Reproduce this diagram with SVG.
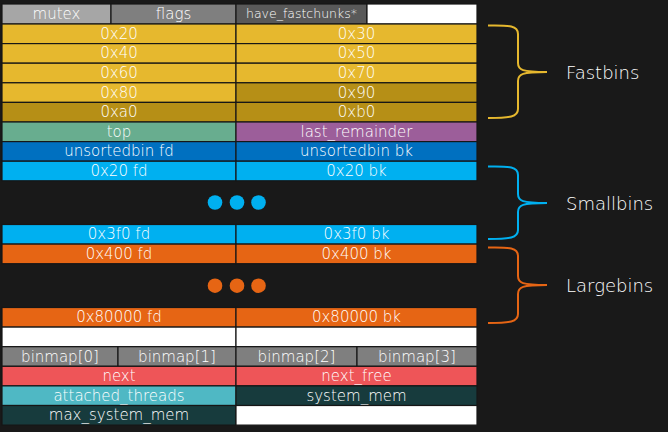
<svg xmlns="http://www.w3.org/2000/svg" width="668" height="432" viewBox="0 0 668 432">
<style>
.c{stroke:#161616;stroke-width:1.2}
.t{font-family:"DejaVu Sans","Liberation Sans",sans-serif;font-size:15px;font-weight:300;fill:#ffffff;text-anchor:middle;dominant-baseline:central}
.s{font-size:12.5px}
.lab{font-family:"DejaVu Sans","Liberation Sans",sans-serif;font-size:18px;font-weight:300;fill:#ffffff;dominant-baseline:central}
.br{fill:none;stroke-width:2}
.gold{fill:#e6b82e}.dgold{fill:#b68f16}.orange{fill:#e66514}.sky{fill:#00b0f0}
</style>
<rect width="668" height="432" fill="#191919"/>
<g id="row-header">
<rect class="c" x="2" y="4" width="109" height="20" fill="#a6a6a6"/><text class="t" x="56.5" y="14">mutex</text>
<rect class="c" x="111" y="4" width="125" height="20" fill="#7f7f7f"/><text class="t" x="173.5" y="14">flags</text>
<rect class="c" x="236" y="4" width="131" height="20" fill="#595959"/><text class="t s" x="301.5" y="13">have_fastchunks*</text>
<rect class="c" x="367" y="4" width="110" height="20" fill="#ffffff"/>
</g>
<g id="fastbin-0x20"><rect class="c gold" x="2" y="24" width="234" height="19.6"/><text class="t" x="119" y="33.8">0x20</text></g>
<g id="fastbin-0x30"><rect class="c gold" x="236" y="24" width="241" height="19.6"/><text class="t" x="356.5" y="33.8">0x30</text></g>
<g id="fastbin-0x40"><rect class="c gold" x="2" y="43.6" width="234" height="19.6"/><text class="t" x="119" y="53.4">0x40</text></g>
<g id="fastbin-0x50"><rect class="c gold" x="236" y="43.6" width="241" height="19.6"/><text class="t" x="356.5" y="53.4">0x50</text></g>
<g id="fastbin-0x60"><rect class="c gold" x="2" y="63.2" width="234" height="19.6"/><text class="t" x="119" y="73">0x60</text></g>
<g id="fastbin-0x70"><rect class="c gold" x="236" y="63.2" width="241" height="19.6"/><text class="t" x="356.5" y="73">0x70</text></g>
<g id="fastbin-0x80"><rect class="c gold" x="2" y="82.8" width="234" height="19.6"/><text class="t" x="119" y="92.6">0x80</text></g>
<g id="fastbin-0x90"><rect class="c dgold" x="236" y="82.8" width="241" height="19.6"/><text class="t" x="356.5" y="92.6">0x90</text></g>
<g id="fastbin-0xa0"><rect class="c dgold" x="2" y="102.4" width="234" height="19.6"/><text class="t" x="119" y="112.2">0xa0</text></g>
<g id="fastbin-0xb0"><rect class="c dgold" x="236" y="102.4" width="241" height="19.6"/><text class="t" x="356.5" y="112.2">0xb0</text></g>
<g id="top"><rect class="c" x="2" y="122" width="234" height="19.6" fill="#68ad8f"/><text class="t" x="119" y="131.8">top</text></g>
<g id="last_remainder"><rect class="c" x="236" y="122" width="241" height="19.6" fill="#9c5e9a"/><text class="t" x="356.5" y="131.8">last_remainder</text></g>
<g id="unsorted-fd"><rect class="c" x="2" y="141.6" width="234" height="19.6" fill="#0070c0"/><text class="t" x="119" y="151.4">unsortedbin fd</text></g>
<g id="unsorted-bk"><rect class="c" x="236" y="141.6" width="241" height="19.6" fill="#0070c0"/><text class="t" x="356.5" y="151.4">unsortedbin bk</text></g>
<g id="small-0x20-fd"><rect class="c sky" x="2" y="161.2" width="234" height="19.6"/><text class="t" x="119" y="171">0x20 fd</text></g>
<g id="small-0x20-bk"><rect class="c sky" x="236" y="161.2" width="241" height="19.6"/><text class="t" x="356.5" y="171">0x20 bk</text></g>
<g id="small-dots" class="sky"><circle cx="215" cy="202.5" r="7.3"/><circle cx="237" cy="202.5" r="7.3"/><circle cx="258.5" cy="202.5" r="7.3"/></g>
<g id="small-0x3f0-fd"><rect class="c sky" x="2" y="224.5" width="234" height="19.6"/><text class="t" x="119" y="234.3">0x3f0 fd</text></g>
<g id="small-0x3f0-bk"><rect class="c sky" x="236" y="224.5" width="241" height="19.6"/><text class="t" x="356.5" y="234.3">0x3f0 bk</text></g>
<g id="large-0x400-fd"><rect class="c orange" x="2" y="244.1" width="234" height="19.6"/><text class="t" x="119" y="253.9">0x400 fd</text></g>
<g id="large-0x400-bk"><rect class="c orange" x="236" y="244.1" width="241" height="19.6"/><text class="t" x="356.5" y="253.9">0x400 bk</text></g>
<g id="large-dots" class="orange"><circle cx="215" cy="285.7" r="7.3"/><circle cx="237" cy="285.7" r="7.3"/><circle cx="258.5" cy="285.7" r="7.3"/></g>
<g id="large-0x80000-fd"><rect class="c orange" x="2" y="307.5" width="234" height="19.6"/><text class="t" x="119" y="317.3">0x80000 fd</text></g>
<g id="large-0x80000-bk"><rect class="c orange" x="236" y="307.5" width="241" height="19.6"/><text class="t" x="356.5" y="317.3">0x80000 bk</text></g>
<g id="blank-row"><rect class="c" x="2" y="327.1" width="234" height="19.6" fill="#ffffff"/><rect class="c" x="236" y="327.1" width="241" height="19.6" fill="#ffffff"/></g>
<g id="binmap">
<rect class="c" x="2" y="346.7" width="116" height="19.6" fill="#7f7f7f"/><text class="t" x="60" y="356.5">binmap[0]</text>
<rect class="c" x="118" y="346.7" width="118" height="19.6" fill="#7f7f7f"/><text class="t" x="177" y="356.5">binmap[1]</text>
<rect class="c" x="236" y="346.7" width="121" height="19.6" fill="#7f7f7f"/><text class="t" x="296.5" y="356.5">binmap[2]</text>
<rect class="c" x="357" y="346.7" width="120" height="19.6" fill="#7f7f7f"/><text class="t" x="417" y="356.5">binmap[3]</text>
</g>
<g id="next"><rect class="c" x="2" y="366.3" width="234" height="19.6" fill="#ee5558"/><text class="t" x="119" y="376.1">next</text></g>
<g id="next_free"><rect class="c" x="236" y="366.3" width="241" height="19.6" fill="#ee5558"/><text class="t" x="356.5" y="376.1">next_free</text></g>
<g id="attached_threads"><rect class="c" x="2" y="385.9" width="234" height="19.6" fill="#4fb8c4"/><text class="t" x="119" y="395.7">attached_threads</text></g>
<g id="system_mem"><rect class="c" x="236" y="385.9" width="241" height="19.6" fill="#173b3d"/><text class="t" x="356.5" y="395.7">system_mem</text></g>
<g id="max_system_mem"><rect class="c" x="2" y="405.5" width="234" height="19.6" fill="#173b3d"/><text class="t" x="119" y="415.3">max_system_mem</text></g>
<g id="blank-end"><rect class="c" x="236" y="405.5" width="241" height="19.6" fill="#ffffff"/></g>
<g id="connectors">
<path class="br" stroke="#e6b82e" d="M488,25.5 C510,25 518,26 518,34 L518,63 C518,70 522,72 547,72 C522,72 518,74 518,81 L518,109 C518,117 510,118 488,118"/>
<path class="br" stroke="#00b0f0" d="M488,166.5 C510,166 518,167 518,175 L518,194 C518,201 522,203 547,203 C522,203 518,205 518,212 L518,230 C518,238 510,239 488,239"/>
<path class="br" stroke="#e66514" d="M488,247.5 C510,247 518,248 518,256 L518,276 C518,283 522,285 547,285 C522,285 518,287 518,294 L518,314 C518,322 510,323 488,323"/>
</g>
<g id="label-fastbins"><text class="lab" x="566" y="72">Fastbins</text></g>
<g id="label-smallbins"><text class="lab" x="566" y="203">Smallbins</text></g>
<g id="label-largebins"><text class="lab" x="566" y="285">Largebins</text></g>
</svg>
